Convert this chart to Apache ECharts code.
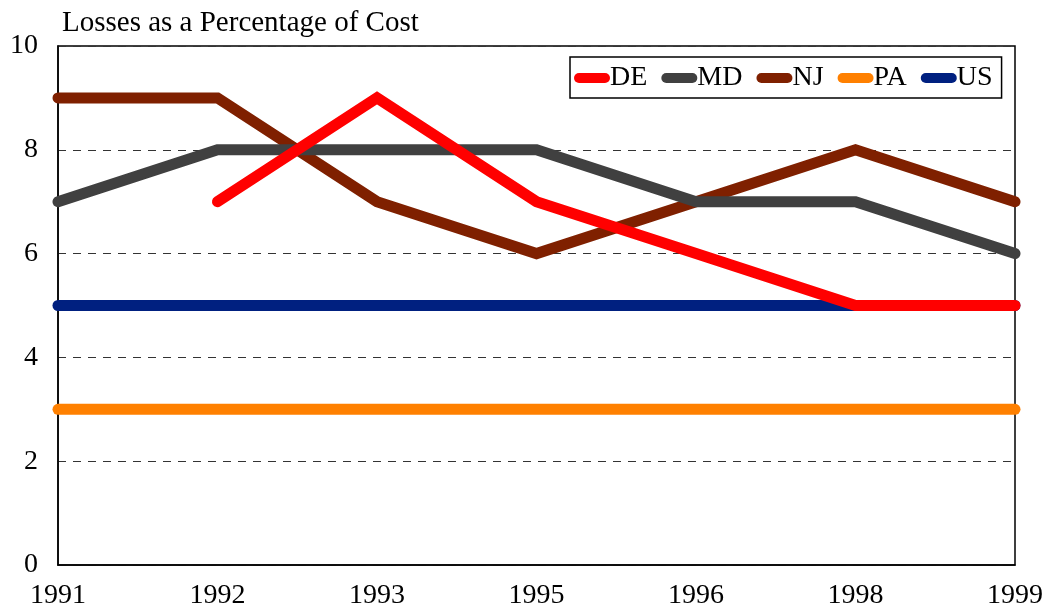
<!DOCTYPE html>
<html>
<head>
<meta charset="utf-8">
<script src="https://cdn.jsdelivr.net/npm/echarts@6/dist/echarts.min.js"></script>
<style>
  html, body { margin: 0; padding: 0; background: #fff; }
  #chart { width: 1046px; height: 612px; }
</style>
</head>
<body>
<div id="chart"></div>
<script>
// Loss rates by state, percent of cost
const years = ['1991', '1992', '1993', '1995', '1996', '1998', '1999'];
const DE = [null, 7, 9, 7, 6, 5, 5];
const MD = [7, 8, 8, 8, 7, 7, 6];
const NJ = [9, 9, 7, 6, 7, 8, 7];
const PA = [3, 3, 3, 3, 3, 3, 3];
const US = [5, 5, 5, 5, 5, 5, 5];

const FONT = '"Liberation Serif", "Times New Roman", serif';
const pill = 'path://M5,0 H31 A5,5 0 0 1 31,10 H5 A5,5 0 0 1 5,0 Z';

function line(name, data, color) {
  return {
    name, type: 'line', data,
    symbol: 'none',
    connectNulls: false,
    lineStyle: { width: 11, color, cap: 'round', join: 'miter' },
    itemStyle: { color },
    emphasis: { disabled: true }
  };
}

const chart = echarts.init(document.getElementById('chart'), null, { renderer: 'canvas' });
chart.setOption({
  animation: false,
  title: {
    text: 'Losses as a Percentage of Cost',
    left: 57, top: 4,
    textStyle: { fontFamily: FONT, fontSize: 29, fontWeight: 'normal', color: '#000' }
  },
  legend: {
    data: ['DE', 'MD', 'NJ', 'PA', 'US'],
    left: 570, top: 57,
    padding: [7, 9, 6, 4],
    borderColor: '#000', borderWidth: 1.5,
    icon: pill,
    itemWidth: 36, itemHeight: 10,
    itemGap: 14,
    textStyle: { fontFamily: FONT, fontSize: 28, color: '#000', padding: [3, 0, 0, -5] }
  },
  grid: {
    left: 58, right: 29, top: 46, bottom: 47,
    show: true, borderColor: '#000', borderWidth: 1.5, backgroundColor: '#fff'
  },
  xAxis: {
    type: 'category', data: years, boundaryGap: false,
    axisLine: { show: true, lineStyle: { color: '#000', width: 1.5 } },
    axisTick: { show: false },
    axisLabel: { fontFamily: FONT, fontSize: 28, color: '#000', margin: 17 },
    splitLine: { show: false }
  },
  yAxis: {
    type: 'value', min: 0, max: 10, interval: 2,
    axisLine: { show: true, lineStyle: { color: '#000', width: 1.5 } },
    axisTick: { show: false },
    axisLabel: { fontFamily: FONT, fontSize: 28, color: '#000', margin: 20 },
    splitLine: { show: true, lineStyle: { color: '#333', type: [8, 7], width: 1 } }
  },
  series: [
    line('PA', PA, '#FF8000'),
    line('US', US, '#002080'),
    line('NJ', NJ, '#7F2000'),
    line('MD', MD, '#404040'),
    line('DE', DE, '#FF0000')
  ]
});
</script>
</body>
</html>
